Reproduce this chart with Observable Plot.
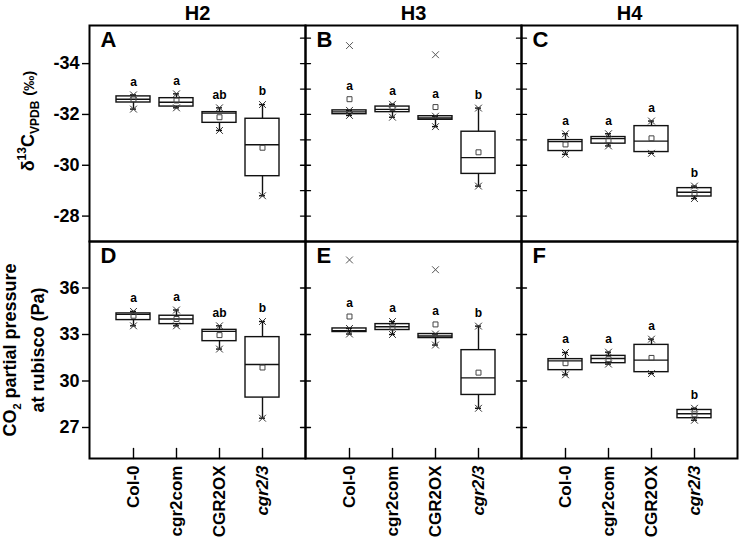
<!DOCTYPE html>
<html><head><meta charset="utf-8">
<script src="https://cdn.jsdelivr.net/npm/d3@7"></script>
<script src="https://cdn.jsdelivr.net/npm/@observablehq/plot@0.6"></script>
<style>
body{margin:0;background:#fff;}
#fig{position:relative;width:740px;height:542px;font-family:"Liberation Sans",Arial,sans-serif;}
#fig svg{position:absolute;left:0;background:transparent;}
</style></head><body><div id="fig"></div>
<script>
const genotypes = ["Col-0","cgr2com","CGR2OX","cgr2/3"];
const stages = ["H2","H3","H4"];
const panelLettersTop = ["A","B","C"];
const panelLettersBottom = ["D","E","F"];
const sigLetters = [["a","a","ab","b"],["a","a","a","b"],["a","a","a","b"]];

// δ13C (‰): rows = H2, H3, H4; columns = genotypes
const d13cMin    = [[-32.77,-32.81,-32.26,-32.39],[-32.16,-32.40,-31.93,-32.25],[-31.24,-31.24,-31.74,-29.18]];
const d13cQ1     = [[-32.71,-32.64,-32.09,-31.83],[-32.16,-32.31,-31.93,-31.32],[-30.99,-31.11,-31.54,-29.10]];
const d13cMedian = [[-32.60,-32.48,-32.05,-30.81],[-32.10,-32.20,-31.86,-30.30],[-30.93,-31.05,-30.95,-28.94]];
const d13cQ3     = [[-32.47,-32.31,-31.67,-29.57],[-32.01,-32.09,-31.79,-29.66],[-30.56,-30.85,-30.52,-28.77]];
const d13cMax    = [[-32.21,-32.26,-31.37,-28.80],[-31.96,-31.89,-31.52,-29.18],[-30.43,-30.76,-30.47,-28.69]];
const d13cMean   = [[-32.59,-32.55,-31.89,-30.69],[-32.60,-32.25,-32.29,-30.51],[-30.82,-30.98,-31.06,-28.91]];
const d13cOutlierStage = ["H3","H3"];
const d13cOutlierGenotype = ["Col-0","CGR2OX"];
const d13cOutlierValue = [-34.71,-34.35];
const d13cTicks = [-34,-32,-30,-28];
const d13cMinorTicks = [-35,-34,-33,-32,-31,-30,-29,-28];

// CO2 partial pressure at rubisco (Pa)
const co2Min    = [[33.56,33.56,32.06,27.60],[33.03,33.00,32.32,28.24],[30.40,31.09,30.48,27.47]];
const co2Q1     = [[33.93,33.67,32.57,28.93],[33.16,33.29,32.77,29.10],[30.70,31.15,30.57,27.60]];
const co2Median = [[34.30,34.00,33.20,31.06],[33.25,33.50,32.90,30.20],[31.30,31.45,31.35,27.89]];
const co2Q3     = [[34.36,34.21,33.30,32.83],[33.39,33.67,33.03,31.99],[31.41,31.62,32.33,28.13]];
const co2Max    = [[34.49,34.58,33.56,33.84],[33.39,33.84,33.03,33.54],[31.84,31.86,32.70,28.24]];
const co2Mean   = [[34.21,34.00,32.96,30.87],[34.16,33.45,33.65,30.54],[31.15,31.41,31.49,27.85]];
const co2OutlierStage = ["H3","H3"];
const co2OutlierGenotype = ["Col-0","CGR2OX"];
const co2OutlierValue = [37.81,37.18];
const co2Ticks = [27,30,33,36];

function buildRows(mn, q1, md, q3, mx, mean) {
  const rows = [];
  stages.forEach((s, i) => genotypes.forEach((g, j) => rows.push({
    stage: s, genotype: g, min: mn[i][j], q1: q1[i][j], median: md[i][j],
    q3: q3[i][j], max: mx[i][j], mean: mean[i][j], letter: sigLetters[i][j]})));
  return rows;
}
function buildOutliers(st, gt, val) {
  return val.map((v, i) => ({stage: st[i], genotype: gt[i], v}));
}
const tickShape = {draw(context, l) { context.moveTo(0, 0); context.lineTo(0, -l); }};
const font = "Liberation Sans, Arial, sans-serif";
const xScale = {type: "band", domain: genotypes, paddingInner: 0.213, paddingOuter: 0.6065, axis: null};

function panelMarks(rows, outliers, interiorTicks, topOf, panelLetters) {
  const ends = rows.flatMap(r => [{stage: r.stage, genotype: r.genotype, v: r.min}, {stage: r.stage, genotype: r.genotype, v: r.max}]);
  const sw = 1.4;
  return [
    Plot.ruleX(rows, {fx: "stage", x: "genotype", y1: "min", y2: "q1", stroke: "#111", strokeWidth: sw}),
    Plot.ruleX(rows, {fx: "stage", x: "genotype", y1: "q3", y2: "max", stroke: "#111", strokeWidth: sw}),
    Plot.barY(rows, {fx: "stage", x: "genotype", y1: "q1", y2: "q3", fill: "white", stroke: "#111", strokeWidth: sw}),
    Plot.tickY(rows, {fx: "stage", x: "genotype", y: "median", stroke: "#111", strokeWidth: sw}),
    Plot.tickY(ends, {fx: "stage", x: "genotype", y: "v", insetLeft: 14, insetRight: 14, stroke: "#111", strokeWidth: sw}),
    Plot.dot(ends, {fx: "stage", x: "genotype", y: "v", symbol: "times", r: 3.2, stroke: "#333", strokeWidth: 1}),
    Plot.dot(outliers, {fx: "stage", x: "genotype", y: "v", symbol: "times", r: 3.2, stroke: "#555", strokeWidth: 1}),
    Plot.dot(rows, {fx: "stage", x: "genotype", y: "mean", symbol: "square", r: 2.8, stroke: "#444", fill: "none", strokeWidth: 1}),
    Plot.text(rows, {fx: "stage", x: "genotype", y: topOf, text: "letter", dy: -13, fontSize: 12, fontWeight: "bold", fontFamily: font, fill: "#000"}),
    Plot.text(stages, {fx: d => d, text: (d, i) => panelLetters[i], frameAnchor: "top-left", dx: 11, dy: 6, lineAnchor: "top", textAnchor: "start", fontSize: 22, fontWeight: "bold", fontFamily: font, fill: "#000"}),
    Plot.vector(interiorTicks, {fx: "stage", y: "v", frameAnchor: "left", length: 10, rotate: 90, anchor: "middle", shape: tickShape, stroke: "#000", strokeWidth: 1.3}),
    Plot.frame({stroke: "#000", strokeWidth: 2})
  ];
}

const fig = document.getElementById("fig");

// ---- top row: δ13C ----
const topRows = buildRows(d13cMin, d13cQ1, d13cMedian, d13cQ3, d13cMax, d13cMean);
const topOut = buildOutliers(d13cOutlierStage, d13cOutlierGenotype, d13cOutlierValue);
const topInterior = ["H3","H4"].flatMap(s => d13cMinorTicks.map(v => ({stage: s, v})));
const topPlot = Plot.plot({
  width: 740, height: 243,
  marginTop: 25, marginBottom: 2, marginLeft: 89, marginRight: 3,
  style: {fontFamily: font, background: "transparent", color: "#000"},
  fx: {domain: stages, padding: 0, label: null},
  x: xScale,
  y: {domain: [-27, -35.5], label: null},
  marks: [
    ...panelMarks(topRows, topOut, topInterior, d => Math.min(d.min, d.mean), panelLettersTop),
    Plot.axisFx({anchor: "top", tickSize: 0, tickPadding: 6, fontSize: 20, fontWeight: "bold", label: null}),
    Plot.axisY(d13cTicks, {anchor: "left", tickSize: 7, tickPadding: 3, fontSize: 18, fontWeight: "bold", strokeWidth: 1.4, tickFormat: d => String(d), label: null})
  ]
});
topPlot.style.top = "0px";
fig.appendChild(topPlot);

// ---- bottom row: CO2 partial pressure ----
const botRows = buildRows(co2Min, co2Q1, co2Median, co2Q3, co2Max, co2Mean);
const botOut = buildOutliers(co2OutlierStage, co2OutlierGenotype, co2OutlierValue);
const botInterior = ["H3","H4"].flatMap(s => co2Ticks.map(v => ({stage: s, v})));
const botPlot = Plot.plot({
  width: 740, height: 303,
  marginTop: 2, marginBottom: 84, marginLeft: 89, marginRight: 3,
  style: {fontFamily: font, background: "transparent", color: "#000"},
  fx: {domain: stages, padding: 0, label: null, axis: null},
  x: xScale,
  y: {domain: [25, 39], label: null},
  marks: [
    ...panelMarks(botRows, botOut, botInterior, d => Math.max(d.max, d.mean), panelLettersBottom),
    Plot.axisY(co2Ticks, {anchor: "left", tickSize: 7, tickPadding: 3, fontSize: 18, fontWeight: "bold", strokeWidth: 1.4, label: null}),
    Plot.vector(botRows, {fx: "stage", x: "genotype", frameAnchor: "bottom", length: 10, anchor: "start", shape: tickShape, stroke: "#000", strokeWidth: 1.4}),
    Plot.text(botRows.filter(d => d.genotype !== "cgr2/3"), {fx: "stage", x: "genotype", text: "genotype", frameAnchor: "bottom", rotate: -90, textAnchor: "end", lineAnchor: "middle", dy: 7, fontSize: 17, fontWeight: "bold", fontFamily: font, fill: "#000"}),
    Plot.text(botRows.filter(d => d.genotype === "cgr2/3"), {fx: "stage", x: "genotype", text: "genotype", frameAnchor: "bottom", rotate: -90, textAnchor: "end", lineAnchor: "middle", dy: 7, fontSize: 17, fontWeight: "bold", fontStyle: "italic", fontFamily: font, fill: "#000"})
  ]
});
botPlot.style.top = "239px";
fig.appendChild(botPlot);

// ---- y-axis titles (with sub/superscripts) ----
const ts = d3.select(topPlot).append("text")
  .attr("transform", "translate(34,121) rotate(-90)")
  .attr("text-anchor", "middle").attr("font-family", font).attr("font-weight", "bold").attr("fill", "#000").attr("font-size", 18);
ts.append("tspan").text("δ");
ts.append("tspan").attr("font-size", 12).attr("dy", -8).text("13");
ts.append("tspan").attr("dy", 8).text("C");
ts.append("tspan").attr("font-size", 12).attr("dy", 5).text("VPDB");
ts.append("tspan").attr("dy", -5).text(" ");
ts.append("tspan").attr("font-size", 15).text("(‰)");

const bs = d3.select(botPlot);
const l1 = bs.append("text").attr("transform", "translate(16,111) rotate(-90)")
  .attr("text-anchor", "middle").attr("font-family", font).attr("font-weight", "bold").attr("fill", "#000").attr("font-size", 18);
l1.append("tspan").text("CO");
l1.append("tspan").attr("font-size", 11).attr("dy", 5).text("2");
l1.append("tspan").attr("dy", -5).text(" partial pressure");
bs.append("text").attr("transform", "translate(44,111) rotate(-90)")
  .attr("text-anchor", "middle").attr("font-family", font).attr("font-weight", "bold").attr("fill", "#000").attr("font-size", 18)
  .text("at rubisco (Pa)");
</script></body></html>
